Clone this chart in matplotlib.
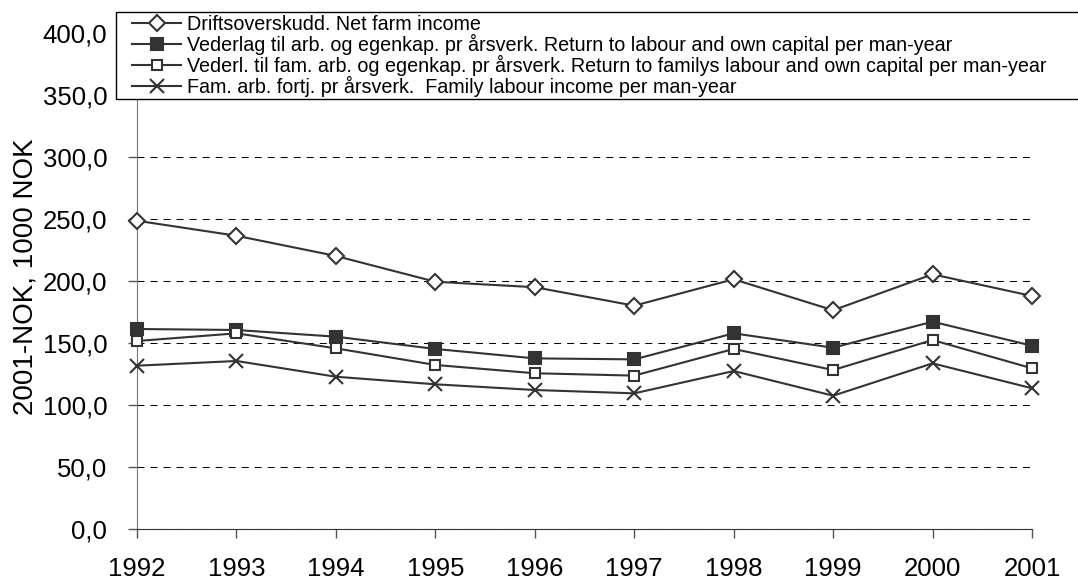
import matplotlib
matplotlib.use('Agg')
import matplotlib.pyplot as plt
from matplotlib.patches import Rectangle

plt.rcParams['font.family'] = ['Liberation Sans', 'DejaVu Sans']

years = [1992, 1993, 1994, 1995, 1996, 1997, 1998, 1999, 2000, 2001]
net_farm_income = [248.6, 236.5, 220.2, 199.4, 195.0, 180.1, 201.4, 176.4, 205.4, 187.9]
return_labour_capital = [161.3, 160.5, 155.1, 145.2, 137.6, 136.8, 157.8, 146.2, 167.2, 147.8]
return_family_labour_capital = [151.6, 157.8, 145.7, 132.3, 125.6, 123.7, 145.2, 128.2, 152.4, 129.6]
family_labour_income = [131.7, 135.5, 122.8, 116.7, 112.1, 109.4, 127.4, 107.5, 133.6, 113.5]

labels = [
    'Driftsoverskudd. Net farm income',
    'Vederlag til arb. og egenkap. pr årsverk. Return to labour and own capital per man-year',
    'Vederl. til fam. arb. og egenkap. pr årsverk. Return to familys labour and own capital per man-year',
    'Fam. arb. fortj. pr årsverk.  Family labour income per man-year',
]
yticks = [0, 50, 100, 150, 200, 250, 300, 350, 400]

col = '#333333'
W, H = 1078, 581

fig = plt.figure(figsize=(W / 100, H / 100), dpi=100)
ax = fig.add_axes([137 / W, 1 - 529 / H, (1032 - 137) / W, (529 - 33) / H])

common = dict(color=col, lw=1.5, mec=col, mew=1.5, zorder=3, clip_on=False)
ax.plot(years, net_farm_income, marker='D', ms=8, mfc='white', label=labels[0], **common)
ax.plot(years, return_labour_capital, marker='s', ms=8, mfc=col, label=labels[1], **common)
ax.plot(years, return_family_labour_capital, marker='s', ms=7, mfc='white', label=labels[2], **common)
ax.plot(years, family_labour_income, marker='x', ms=10, label=labels[3], **common)

ax.set_xlim(years[0], years[-1])
ax.set_ylim(0, 400)
ax.set_xticks(years)
ax.set_yticks(yticks)
ax.set_yticklabels([f'{v:.1f}'.replace('.', ',') for v in yticks])
ax.grid(axis='y', color='black', lw=0.75, linestyle=(0, (6.7, 5.8)), zorder=1)
ax.set_axisbelow(True)

for s in ['top', 'right']:
    ax.spines[s].set_visible(False)
ax.spines['left'].set_color('#777777')
ax.spines['bottom'].set_color('#333333')
ax.tick_params(axis='both', direction='out', length=6.5, width=1, color='#555555',
               labelsize=18.5, labelcolor='black')
ax.tick_params(axis='x', pad=14)
ax.tick_params(axis='y', pad=15)
ax.set_ylabel('2001-NOK, 1000 NOK', fontsize=20)
ax.yaxis.set_label_coords(-0.11, 0.508)

# legend frame runs off the right edge, drawn separately
box = Rectangle((116 / W, 1 - 99 / H), (W + 5 - 116) / W, 87 / H, transform=fig.transFigure,
                facecolor='white', edgecolor='black', lw=1, zorder=4)
fig.add_artist(box)
leg = fig.legend(loc='upper left', bbox_to_anchor=(132 / W, 1 - 15 / H),
                 fontsize=14.2, frameon=False, borderpad=0, labelspacing=0,
                 handlelength=2.5, handletextpad=0.3, borderaxespad=0)
leg.set_zorder(5)

fig.savefig('out.png', dpi=100)
